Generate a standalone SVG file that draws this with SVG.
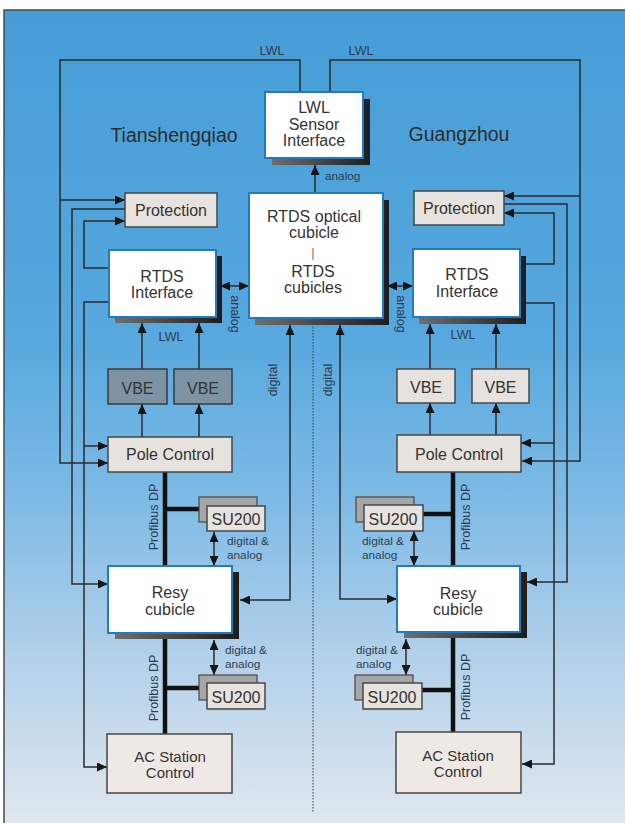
<svg xmlns="http://www.w3.org/2000/svg" width="625" height="823" viewBox="0 0 625 823">
<defs>
<linearGradient id="bg" x1="0" y1="0" x2="0" y2="1">
<stop offset="0" stop-color="#469dd6"/>
<stop offset="0.4" stop-color="#56a8de"/>
<stop offset="0.6" stop-color="#7dbae5"/>
<stop offset="0.8" stop-color="#b3d1ea"/>
<stop offset="1" stop-color="#e0e7ee"/>
</linearGradient>
<linearGradient id="sh" x1="0" y1="0" x2="1" y2="0">
<stop offset="0" stop-color="#6e6e6e"/>
<stop offset="1" stop-color="#1e1e1e"/>
</linearGradient>
<marker id="ah" markerUnits="userSpaceOnUse" markerWidth="11" markerHeight="9" refX="10" refY="4.5" orient="auto-start-reverse">
<path d="M0,0 L10,4.5 L0,9 z" fill="#161616"/>
</marker>
<style>
text{font-family:"Liberation Sans",Arial,sans-serif;fill:#333;}
.lbl{font-size:16px;text-anchor:middle;}
.ac{font-size:15px;text-anchor:middle;}
.sm{font-size:11.8px;fill:#2e3d50;}
.smc{font-size:12.5px;fill:#2e3d50;text-anchor:middle;}
.title{font-size:19.5px;text-anchor:middle;fill:#2d2d2d;}
.sep{font-size:13px;text-anchor:middle;fill:#777;}
.wb{fill:#fff;stroke:#1f7bc4;stroke-width:2;}
.shd{fill:url(#sh);}
.gb{fill:#e6e2de;stroke:#474747;stroke-width:1.5;}
.db{fill:#7d93a3;stroke:#3a3a3a;stroke-width:1.5;}
.bk{fill:#a6a6a6;stroke:#474747;stroke-width:1.2;}
.acb{fill:#efe9e6;stroke:#474747;stroke-width:1.5;}
.ln{fill:none;stroke:#2b2b2b;stroke-width:1.5;}
.bus{fill:none;stroke:#111;stroke-width:4.5;}
.dot{fill:none;stroke:#3a3a3a;stroke-width:1;stroke-dasharray:1.5 1.5;}
</style>
</defs>
<rect x="0" y="0" width="625" height="823" fill="#fff"/>
<rect x="4" y="10" width="621" height="813" fill="url(#bg)"/>
<path d="M4,823 V10 H625" fill="none" stroke="#4a4a4a" stroke-width="1.5"/>

<text class="title" x="174" y="142">Tianshengqiao</text>
<text class="title" x="459" y="141">Guangzhou</text>

<g id="connectors">
<!-- center -->
<path class="ln" d="M315,193 V165" marker-end="url(#ah)"/>
<path class="dot" d="M313,300 V813"/>
<text class="sm" x="325" y="180">analog</text>
<text class="smc" x="272" y="55">LWL</text>
<text class="smc" x="361" y="55">LWL</text>
<!-- left loops -->
<path class="ln" d="M300,92 V60 H60 V463 H108" marker-end="url(#ah)"/>
<path class="ln" d="M60,200 H125" marker-end="url(#ah)"/>
<path class="ln" d="M125,209 H72 V584 H108" marker-end="url(#ah)"/>
<path class="ln" d="M109,268 H84 V221 H125" marker-end="url(#ah)"/>
<path class="ln" d="M109,302 H84 V767 H107" marker-end="url(#ah)"/>
<path class="ln" d="M84,446 H108" marker-end="url(#ah)"/>
<path class="ln" d="M142,369 V323" marker-end="url(#ah)"/>
<path class="ln" d="M199,369 V323" marker-end="url(#ah)"/>
<path class="ln" d="M142,437 V404" marker-end="url(#ah)"/>
<path class="ln" d="M199,437 V404" marker-end="url(#ah)"/>
<path class="ln" d="M220,286 H249" marker-start="url(#ah)" marker-end="url(#ah)"/>
<path class="ln" d="M240,600 H290 V325" marker-start="url(#ah)" marker-end="url(#ah)"/>
<path class="ln" d="M214,532 V566" marker-start="url(#ah)" marker-end="url(#ah)"/>
<path class="ln" d="M214,640 V675" marker-start="url(#ah)" marker-end="url(#ah)"/>
<path class="bus" d="M165,472 V566 M165,509 H199 M165,633 V734 M165,688 H199"/>
<text class="smc" x="171" y="341">LWL</text>
<text class="smc" transform="translate(231,314) rotate(90)">analog</text>
<text class="smc" transform="translate(277,380) rotate(-90)">digital</text>
<text class="smc" transform="translate(158,517) rotate(-90)">Profibus DP</text>
<text class="smc" transform="translate(158,688) rotate(-90)">Profibus DP</text>
<text class="sm" x="227" y="545">digital &amp;</text>
<text class="sm" x="227" y="559">analog</text>
<text class="sm" x="225" y="654">digital &amp;</text>
<text class="sm" x="225" y="668">analog</text>
<!-- right loops -->
<path class="ln" d="M330,92 V60 H580 V461 H522" marker-end="url(#ah)"/>
<path class="ln" d="M580,196 H504" marker-end="url(#ah)"/>
<path class="ln" d="M504,204 H567 V582 H527" marker-end="url(#ah)"/>
<path class="ln" d="M526,264 H554 V213 H504" marker-end="url(#ah)"/>
<path class="ln" d="M526,303 H554 V764 H522" marker-end="url(#ah)"/>
<path class="ln" d="M554,443 H521" marker-end="url(#ah)"/>
<path class="ln" d="M430,369 V324" marker-end="url(#ah)"/>
<path class="ln" d="M496,369 V324" marker-end="url(#ah)"/>
<path class="ln" d="M430,435 V403" marker-end="url(#ah)"/>
<path class="ln" d="M496,435 V403" marker-end="url(#ah)"/>
<path class="ln" d="M387,286 H413" marker-start="url(#ah)" marker-end="url(#ah)"/>
<path class="ln" d="M340,325 V599 H397" marker-start="url(#ah)" marker-end="url(#ah)"/>
<path class="ln" d="M414,531 V566" marker-start="url(#ah)" marker-end="url(#ah)"/>
<path class="ln" d="M406,639 V675" marker-start="url(#ah)" marker-end="url(#ah)"/>
<path class="bus" d="M453,472 V566 M453,514 H423 M453,633 V732 M453,690 H422"/>
<text class="smc" x="463" y="339">LWL</text>
<text class="smc" transform="translate(397,314) rotate(90)">analog</text>
<text class="smc" transform="translate(332,380) rotate(-90)">digital</text>
<text class="smc" transform="translate(470,517) rotate(-90)">Profibus DP</text>
<text class="smc" transform="translate(470,687) rotate(-90)">Profibus DP</text>
<text class="sm" x="362" y="545">digital &amp;</text>
<text class="sm" x="362" y="559">analog</text>
<text class="sm" x="356" y="654">digital &amp;</text>
<text class="sm" x="356" y="668">analog</text>
</g>

<g id="lwl-sensor">
<rect class="shd" x="272" y="99" width="98" height="66"/>
<rect class="wb" x="265" y="92" width="98" height="66"/>
<text class="lbl" x="314" y="113">LWL</text>
<text class="lbl" x="314" y="130">Sensor</text>
<text class="lbl" x="314" y="146">Interface</text>
</g>

<g id="rtds-cubicle">
<rect class="shd" x="255" y="200" width="134" height="125"/>
<rect class="wb" x="249" y="193" width="134" height="125"/>
<text class="lbl" x="314" y="222">RTDS optical</text>
<text class="lbl" x="314" y="238">cubicle</text>
<text class="sep" x="313" y="257">|</text>
<text class="lbl" x="313" y="277">RTDS</text>
<text class="lbl" x="313" y="293">cubicles</text>
</g>

<g id="protection-l"><rect class="gb" x="125" y="193" width="92" height="34"/><text class="lbl" x="171" y="216">Protection</text></g>
<g id="protection-r"><rect class="gb" x="414" y="191" width="90" height="34"/><text class="lbl" x="459" y="214">Protection</text></g>

<g id="rtds-interface-l">
<rect class="shd" x="115" y="256" width="107" height="67"/>
<rect class="wb" x="109" y="250" width="107" height="67"/>
<text class="lbl" x="162" y="282">RTDS</text>
<text class="lbl" x="162" y="298">Interface</text>
</g>
<g id="rtds-interface-r">
<rect class="shd" x="419" y="256" width="107" height="68"/>
<rect class="wb" x="413" y="249" width="107" height="68"/>
<text class="lbl" x="467" y="280">RTDS</text>
<text class="lbl" x="467" y="297">Interface</text>
</g>

<g id="vbe-l1"><rect class="db" x="108" y="369" width="59" height="35"/><text class="lbl" x="137.5" y="394">VBE</text></g>
<g id="vbe-l2"><rect class="db" x="174" y="369" width="58" height="35"/><text class="lbl" x="203" y="394">VBE</text></g>
<g id="vbe-r1"><rect class="gb" x="397" y="369" width="58" height="34"/><text class="lbl" x="426" y="393">VBE</text></g>
<g id="vbe-r2"><rect class="gb" x="472" y="369" width="57" height="34"/><text class="lbl" x="500.5" y="393">VBE</text></g>

<g id="pole-l"><rect class="gb" x="108" y="437" width="124" height="35"/><text class="lbl" x="170" y="460">Pole Control</text></g>
<g id="pole-r"><rect class="gb" x="397" y="435" width="124" height="37"/><text class="lbl" x="459" y="460">Pole Control</text></g>

<g id="su200-ul"><rect class="bk" x="199" y="497" width="58" height="25"/><rect class="gb" x="207" y="506" width="58" height="25"/><text class="lbl" x="236" y="525">SU200</text></g>
<g id="su200-ur"><rect class="bk" x="356" y="497" width="58" height="25"/><rect class="gb" x="364" y="505" width="59" height="26"/><text class="lbl" x="393" y="525">SU200</text></g>

<g id="resy-l">
<rect class="shd" x="115" y="572" width="124" height="67"/>
<rect class="wb" x="108" y="566" width="124" height="67"/>
<text class="lbl" x="170" y="598">Resy</text>
<text class="lbl" x="170" y="615">cubicle</text>
</g>
<g id="resy-r">
<rect class="shd" x="404" y="572" width="123" height="66"/>
<rect class="wb" x="397" y="566" width="123" height="66"/>
<text class="lbl" x="458" y="599">Resy</text>
<text class="lbl" x="458" y="615">cubicle</text>
</g>

<g id="su200-ll"><rect class="bk" x="199" y="675" width="58" height="25"/><rect class="gb" x="207" y="683" width="58" height="26"/><text class="lbl" x="236" y="703">SU200</text></g>
<g id="su200-lr"><rect class="bk" x="355" y="675" width="58" height="25"/><rect class="gb" x="363" y="683" width="59" height="26"/><text class="lbl" x="392" y="703">SU200</text></g>

<g id="ac-l"><rect class="acb" x="107" y="734" width="125" height="59"/><text class="ac" x="170" y="762">AC Station</text><text class="ac" x="170" y="778">Control</text></g>
<g id="ac-r"><rect class="acb" x="396" y="732" width="125" height="61"/><text class="ac" x="458" y="761">AC Station</text><text class="ac" x="458" y="777">Control</text></g>
</svg>
